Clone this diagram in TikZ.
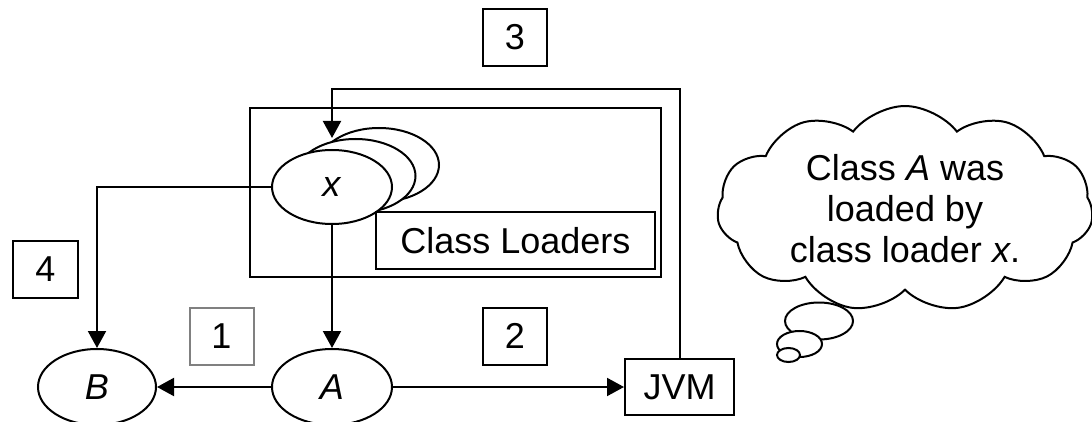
\documentclass[tikz,border=0pt]{standalone}
\usepackage{fontspec}
\setmainfont{Liberation Sans}
\usetikzlibrary{arrows.meta, positioning, shapes, calc}

\begin{document}
\begin{tikzpicture}[x=1pt, y=-1pt,
    every node/.style={font=\fontsize{36}{41}\selectfont},
    numbox/.style={rectangle, draw, line width=2pt, minimum width=64pt, minimum height=57pt, inner sep=0pt},
    loader/.style={ellipse, draw, fill=white, line width=2pt, minimum width=120pt, minimum height=74pt, inner sep=0pt},
    bubble/.style={ellipse, draw, fill=white, line width=2pt, inner sep=0pt},
    arr/.style={-{Triangle[length=17pt, width=18pt]}, line width=2pt}]

\useasboundingbox (0,0) rectangle (1092,422);

% --- Class loaders ---
\node[rectangle, draw, line width=2.4pt, minimum width=411pt, minimum height=169pt] (pool) at (455.5,192.5) {};
\node[loader] (x3) at (379,165) {};
\node[loader] (x2) at (355.5,176) {};
\node[loader] (x) at (332,187) {\textit{x}};
\node[rectangle, draw, fill=white, line width=2pt, minimum width=279pt, minimum height=56pt, inner sep=0pt] (names) at (515.5,240.5) {Class Loaders};

% --- Classes and JVM ---
\node[loader, minimum height=76pt] (A) at (332,387) {\textit{A}};
\node[loader, minimum width=118pt, minimum height=76pt] (B) at (97,387) {\textit{B}};
\node[rectangle, draw, line width=2pt, minimum width=109pt, minimum height=56pt, inner sep=0pt] (jvm) at (679.5,387) {JVM};

% --- Step numbers ---
\node[numbox, draw=gray] (n1) at (221.5,336) {1};
\node[numbox] (n2) at (515,336) {2};
\node[numbox] (n3) at (515,37.5) {3};
\node[numbox, minimum width=65pt] (n4) at (45.5,269.5) {4};

% --- Thought ---
\node[cloud, draw, line width=2pt, cloud puffs=11, cloud puff arc=105, cloud ignores aspect, minimum width=376pt, minimum height=206pt, align=center] (thought) at (905,209)
{Class \textit{A} was\\loaded by\\class loader \textit{x}.};
\node[bubble, minimum width=68pt, minimum height=37pt] (b1) at (819,321) {};
\node[bubble, minimum width=45pt, minimum height=26pt] (b2) at (799.5,344) {};
\node[bubble, minimum width=23pt, minimum height=14pt] (b3) at (788.5,355) {};

% --- Arrows ---
\coordinate (turn) at (332,89);
\draw[arr] (jvm.north) |- (turn) -- (x.north |- x2.north);
\draw[arr] (x.west) -| (B.north);
\draw[arr] (x.south) -- (A.north);
\draw[arr] (A.west) -- (B.east);
\draw[arr] (A.east) -- (jvm.west);

\end{tikzpicture}
\end{document}
